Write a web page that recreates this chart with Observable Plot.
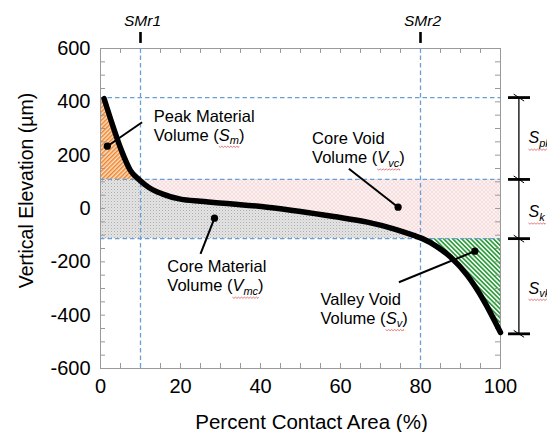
<!DOCTYPE html>
<html><head><meta charset="utf-8">
<script src="https://cdn.jsdelivr.net/npm/d3@7"></script>
<script src="https://cdn.jsdelivr.net/npm/@observablehq/plot@0.6"></script>
<style>
html,body{margin:0;padding:0;background:#fff;}
svg{display:block;}
</style></head><body><div id="chart"></div>
<script>
// Bearing (Abbott-Firestone) curve
const pctArea   = [0.9, 2.9, 5.25, 7.5, 9.6, 12, 15.4, 20, 25, 33, 41.7, 50, 58.3, 66.7, 73.3, 78.3, 80.5, 84, 87.5, 91.7, 95.8, 100];
const elevation = [412, 318, 217, 142, 109, 80, 55, 35, 27, 17, 5, -11, -30, -51, -76, -101, -113, -142, -182, -251, -345, -465];

// Functional levels (µm)
const spkTop = 416, skTop = 109, skBot = -113, svkBot = -470;
const bandLevels = [spkTop, skTop, skBot, svkBot];
const bandLabels = ["{S|pk}", "{S|k}", "{S|vk}"];
const bandLabelY = [244, -33, -319];

// Material ratio lines (%)
const smrValues = [10, 80];
const smrNames = ["SMr1", "SMr2"];
const crossLow = 9.6, crossHigh = 80.5;

// Axis ticks
const xTicks = [0, 20, 40, 60, 80, 100];
const yTicks = [-600, -400, -200, 0, 200, 400, 600];
const xMinor = d3.range(0, 101, 5);
const yMinor = d3.range(-600, 601, 50);

// Annotations (text in data units)
const noteText = ["Peak Material", "Volume ({S|m})", "Core Void", "Volume ({V|vc})", "Core Material", "Volume ({V|mc})", "Valley Void", "Volume ({S|v})"];
const noteX = [13.3, 13.3, 52.9, 52.9, 16.7, 16.7, 55, 55];
const noteY = [323.6, 255, 242.6, 169.9, -238.9, -311, -360, -432.4];
// Leader lines: start point, dot point
const leadX1 = [10.4, 62.1, 25, 74.6];
const leadY1 = [323.6, 148.9, -169.9, -276.4];
const leadX2 = [1.7, 74.4, 28.5, 93.6];
const leadY2 = [233.6, 4.9, -36.4, -160.1];

const pts = pctArea.map((x, i) => ({x, y: elevation[i]}));
const areaPts = [{x: 0, y: elevation[0]}, ...pts];
const notes = noteText.map((t, i) => ({t, x: noteX[i], y: noteY[i]}));
const leads = leadX1.map((d, i) => ({x1: d, y1: leadY1[i], x2: leadX2[i], y2: leadY2[i]}));
const bands = bandLabels.map((t, i) => ({t, y: bandLabelY[i]}));
const smr = smrValues.map((x, i) => ({x, t: smrNames[i]}));

const W = 547, H = 432, mL = 100, mR = 47, mT = 48, mB = 64;
const pH = H - mT - mB, pW = W - mL - mR;
const blue = "#6a9fd6", grid = "#9a9a9a";
const curve = "monotone-x";
const bracketX = 104.6;

const svg = Plot.plot({
  width: W, height: H,
  marginLeft: mL, marginRight: mR, marginTop: mT, marginBottom: mB,
  style: {fontFamily: "'Liberation Sans', Arial, sans-serif", fontSize: "20px", color: "#000", background: "#fff"},
  x: {domain: [0, 100], ticks: xTicks, tickSize: 0, tickPadding: 10, tickFormat: d => String(d), label: null},
  y: {domain: [-600, 600], ticks: yTicks, tickSize: 0, tickPadding: 10, tickFormat: d => String(d), label: null},
  marks: [
    // filled regions
    Plot.areaY(areaPts.filter(d => d.x <= crossLow), {x: "x", y1: skTop, y2: "y", fill: "url(#hOrange)", curve}),
    Plot.areaY(areaPts.filter(d => d.x <= crossHigh), {x: "x", y1: skBot, y2: d => Math.min(d.y, skTop), fill: "url(#dGrey)", curve}),
    Plot.areaY(pts.filter(d => d.x >= crossLow), {x: "x", y1: d => Math.max(d.y, skBot), y2: skTop, fill: "url(#cPink)", curve}),
    Plot.areaY(pts.filter(d => d.x >= crossHigh), {x: "x", y1: "y", y2: skBot, fill: "url(#hGreen)", curve}),
    // frame ticks (inward)
    Plot.tickX(xMinor, {x: d => d, insetTop: pH - 5, stroke: grid}),
    Plot.tickX(xMinor, {x: d => d, insetBottom: pH - 5, stroke: grid}),
    Plot.tickY(yMinor, {y: d => d, insetRight: pW - 5, stroke: grid}),
    Plot.tickY(yMinor, {y: d => d, insetLeft: pW - 5, stroke: grid}),
    Plot.frame({stroke: grid, strokeWidth: 1}),
    // dashed reference lines
    Plot.ruleY([spkTop, skTop, skBot], {stroke: blue, strokeWidth: 1.3, strokeDasharray: "4.5,3"}),
    Plot.ruleX(smrValues, {stroke: blue, strokeWidth: 1.3, strokeDasharray: "4.5,3"}),
    // the curve
    Plot.line(pts, {x: "x", y: "y", stroke: "#000", strokeWidth: 5.5, curve}),
    // leaders
    Plot.link(leads, {x1: "x1", y1: "y1", x2: "x2", y2: "y2", stroke: "#000", strokeWidth: 2}),
    Plot.dot(leads, {x: "x2", y: "y2", r: 3.6, fill: "#000", stroke: null}),
    Plot.text(notes, {x: "x", y: "y", text: "t", textAnchor: "start", lineAnchor: "bottom", fontSize: 16.5}),
    // SMr markers above the frame
    Plot.ruleX(smrValues, {y1: 619, y2: 660, stroke: "#000", strokeWidth: 2.6}),
    Plot.text(smr, {x: "x", y: 686, text: "t", dx: 2, lineAnchor: "bottom", fontSize: 15.5, fontStyle: "italic"}),
    // right-hand bracket
    Plot.ruleX([bracketX], {y1: spkTop, y2: svkBot, stroke: "#000", strokeWidth: 1.3}),
    Plot.ruleY(bandLevels, {x1: bracketX - 2.6, x2: bracketX + 2.9, stroke: "#000", strokeWidth: 2.8}),
    Plot.link(bandLevels, {x1: bracketX - 1.3, x2: bracketX + 1.3, y1: d => d + 13, y2: d => d - 13, stroke: "#000", strokeWidth: 1}),
    Plot.text(bands, {x: 107, y: "y", text: "t", textAnchor: "start", lineAnchor: "bottom", fontSize: 16}),
    // axis titles
    Plot.text(["Percent Contact Area (%)"], {text: d => d, frameAnchor: "bottom", textAnchor: "middle", lineAnchor: "bottom", dx: 11, dy: 60, fontSize: 20.5}),
    Plot.text(["Vertical Elevation (µm)"], {text: d => d, frameAnchor: "left", textAnchor: "middle", lineAnchor: "bottom", rotate: -90, dx: -68, dy: -18, fontSize: 19.5})
  ]
});

document.getElementById("chart").append(svg);

// patterns
const defs = d3.select(svg).insert("defs", ":first-child");
const pO = defs.append("pattern").attr("id", "hOrange").attr("patternUnits", "userSpaceOnUse")
  .attr("width", 3).attr("height", 3).attr("patternTransform", "rotate(45)");
pO.append("rect").attr("width", 3).attr("height", 3).attr("fill", "#fde2c6");
pO.append("rect").attr("width", 1.5).attr("height", 3).attr("fill", "#ee8430");
const pG = defs.append("pattern").attr("id", "hGreen").attr("patternUnits", "userSpaceOnUse")
  .attr("width", 3.2).attr("height", 3.2).attr("patternTransform", "rotate(-45)");
pG.append("rect").attr("width", 3.2).attr("height", 3.2).attr("fill", "#ffffff");
pG.append("rect").attr("width", 1.7).attr("height", 3.2).attr("fill", "#2e9c3c");
const pD = defs.append("pattern").attr("id", "dGrey").attr("patternUnits", "userSpaceOnUse")
  .attr("width", 3).attr("height", 3);
pD.append("rect").attr("width", 3).attr("height", 3).attr("fill", "#e4e4e4");
pD.append("rect").attr("width", 1).attr("height", 1).attr("fill", "#ababab");
pD.append("rect").attr("x", 1.5).attr("y", 1.5).attr("width", 1).attr("height", 1).attr("fill", "#c4c4c4");
const pP = defs.append("pattern").attr("id", "cPink").attr("patternUnits", "userSpaceOnUse")
  .attr("width", 4).attr("height", 4);
pP.append("rect").attr("width", 4).attr("height", 4).attr("fill", "#fdf0f0");
pP.append("path").attr("d", "M0,4L4,0M0,0L4,4").attr("stroke", "#f2d2d2").attr("stroke-width", 0.6);

// italic symbols with subscripts, plus the red squiggle underline
d3.select(svg).selectAll("text").each(function() {
  const t = this.textContent;
  const m = t.match(/^(.*)\{([^|]+)\|([^}]+)\}(.*)$/);
  if (!m) return;
  const sel = d3.select(this);
  sel.text(null);
  if (m[1]) sel.append("tspan").text(m[1]);
  const a = sel.append("tspan").attr("font-style", "italic").text(m[2]);
  const b = sel.append("tspan").attr("font-style", "italic").attr("font-size", "11px").attr("dy", 3.5).text(m[3]);
  if (m[4]) sel.append("tspan").attr("dy", -3.5).text(m[4]);
  const ba = a.node().getBBox(), bb = b.node().getBBox();
  const x0 = ba.x, x1 = bb.x + bb.width, y0 = bb.y + bb.height + 0.2;
  let d = `M${x0},${y0}`;
  for (let x = x0, k = 0; x < x1; x += 1.5, k++) d += `L${Math.min(x + 1.5, x1)},${y0 + (k % 2 ? 0 : 1.2)}`;
  d3.select(this.parentNode).append("path").attr("d", d).attr("fill", "none")
    .attr("stroke", "#e05555").attr("stroke-width", 0.8)
    .attr("transform", this.getAttribute("transform"));
});
</script>
</body></html>
